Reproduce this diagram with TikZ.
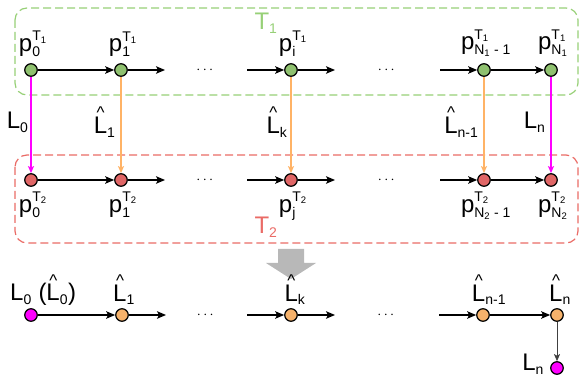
\documentclass[tikz,border=0pt]{standalone}
\usepackage{amsmath}
\usepackage{fontspec}
\setmainfont{Liberation Sans}
\usetikzlibrary{positioning,arrows.meta,calc}
\DeclareMathSizes{24}{24}{14}{9.5}
\definecolor{lgreen}{HTML}{97D077}
\definecolor{ngreen}{HTML}{8FC16F}
\definecolor{lred}{HTML}{EA6B66}
\definecolor{nred}{HTML}{E06666}
\definecolor{norange}{HTML}{F6B26B}
\definecolor{lorange}{HTML}{FFB366}
\definecolor{lmag}{HTML}{FF00FF}
\newcommand{\Lh}{\makebox[0pt][l]{\hspace{0.12em}\raisebox{0.6em}{\fontsize{17}{17}\selectfont\textasciicircum}}L}

\begin{document}
\begin{tikzpicture}[x=1pt,y=-1pt,
	dot/.style = {circle, draw, line width=1.2pt, minimum size=12.5pt, inner sep=0pt},
	gdot/.style = {dot, fill=ngreen},
	rdot/.style = {dot, fill=nred},
	odot/.style = {dot, fill=norange},
	mdot/.style = {dot, fill=lmag},
	arr/.style = {-{Stealth[length=9pt,width=7.5pt,inset=2pt]}, line width=1.2pt},
	link/.style = {-{Stealth[length=7pt,width=6pt,inset=1.5pt]}, line width=1.2pt},
	lab/.style = {inner sep=0pt, text=black, font=\fontsize{24}{27}\selectfont},
	dots/.style = {inner sep=0pt, font=\fontsize{14}{14}\selectfont},
	tbox/.style = {dash pattern=on 8pt off 4pt, line width=1.2pt, rounded corners=12pt}]
	\useasboundingbox (0,0) rectangle (582,379);
	\draw[tbox, lgreen] (15,8) rectangle (578,95);
	\draw[tbox, lred] (15,155) rectangle (578,243);
	\node[lab, text=lgreen] (t1) at (266,23) {$\text{T}_\text{1}$};
	\node[lab, text=lred] (t2) at (266,227) {$\text{T}_\text{2}$};
	\node[gdot] (a0) at (31,70) {};
	\node[gdot] (a1) at (121,70) {};
	\node[gdot] (a2) at (291,70) {};
	\node[gdot] (a3) at (484,70) {};
	\node[gdot] (a4) at (551,70) {};
	\node[rdot] (b0) at (31,180) {};
	\node[rdot] (b1) at (121,180) {};
	\node[rdot] (b2) at (291,180) {};
	\node[rdot] (b3) at (484,180) {};
	\node[rdot] (b4) at (551,180) {};
	\node[mdot] (c0) at (31,315) {};
	\node[odot] (c1) at (122,315) {};
	\node[odot] (c2) at (291,315) {};
	\node[odot] (c3) at (483,315) {};
	\node[odot] (c4) at (557,315) {};
	\node[mdot] (c5) at (557,368) {};
	\foreach \r in {a,b,c}{
		\coordinate[right=44pt of \r1.center] (\r1e);
		\coordinate[left=44pt of \r2.center] (\r2s);
		\coordinate[right=44pt of \r2.center] (\r2e);
		\coordinate[left=44pt of \r3.center] (\r3s);
		\node[dots] (\r d1) at ($(\r1e)!0.5!(\r2s)$) {$\cdots$};
		\node[dots] (\r d2) at ($(\r2e)!0.5!(\r3s)$) {$\cdots$};
		\draw[arr] (\r0) -- (\r1);
		\draw[arr] (\r1) -- (\r1e);
		\draw[arr] (\r2s) -- (\r2);
		\draw[arr] (\r2) -- (\r2e);
		\draw[arr] (\r3s) -- (\r3);
		\draw[arr] (\r3) -- (\r4);
	}
	\node[lab, above=6pt of a0, xshift=2pt] (pa0) {$\text{p}^{\text{T}_\text{1}}_\text{0}$};
	\node[lab, above=6pt of a1, xshift=2pt] (pa1) {$\text{p}^{\text{T}_\text{1}}_\text{1}$};
	\node[lab, above=6pt of a2, xshift=2pt] (pa2) {$\text{p}^{\text{T}_\text{1}}_\text{i}$};
	\node[lab, above=6pt of a3, xshift=2pt] (pa3) {$\text{p}^{\text{T}_\text{1}}_{\text{N}_\text{1}\text{ - 1}}$};
	\node[lab, above=6pt of a4, xshift=2pt] (pa4) {$\text{p}^{\text{T}_\text{1}}_{\text{N}_\text{1}}$};
	\node[lab, below=5pt of b0, xshift=2pt] (pb0) {$\text{p}^{\text{T}_\text{2}}_\text{0}$};
	\node[lab, below=5pt of b1, xshift=2pt] (pb1) {$\text{p}^{\text{T}_\text{2}}_\text{1}$};
	\node[lab, below=5pt of b2, xshift=2pt] (pb2) {$\text{p}^{\text{T}_\text{2}}_\text{j}$};
	\node[lab, below=5pt of b3, xshift=2pt] (pb3) {$\text{p}^{\text{T}_\text{2}}_{\text{N}_\text{2}\text{ - 1}}$};
	\node[lab, below=5pt of b4, xshift=2pt] (pb4) {$\text{p}^{\text{T}_\text{2}}_{\text{N}_\text{2}}$};
	\draw[link, lmag] (a0) -- (b0) node[lab, pos=0.47, left=2pt] (l0) {$\text{L}_\text{0}$};
	\draw[link, lorange] (a1) -- (b1) node[lab, pos=0.47, left=5pt] (l1) {$\text{\Lh}_\text{1}$};
	\draw[link, lorange] (a2) -- (b2) node[lab, pos=0.47, left=3pt] (l2) {$\text{\Lh}_\text{k}$};
	\draw[link, lorange] (a3) -- (b3) node[lab, pos=0.47, left=5pt] (l3) {$\text{\Lh}_\text{n-1}$};
	\draw[link, lmag] (a4) -- (b4) node[lab, pos=0.47, left=5pt] (l4) {$\text{L}_\text{n}$};
	\fill[black!28] (278,249) -- (304,249) -- (304,263) -- (316,263) -- (291,279) -- (266,263) -- (278,263) -- cycle;
	\node[lab, anchor=south west] (m0) at (10,306) {$\text{L}_\text{0}\text{ (}\text{\Lh}_\text{0}\text{)}$};
	\node[lab, above=3pt of c1, xshift=2pt] (m1) {$\text{\Lh}_\text{1}$};
	\node[lab, above=3pt of c2, xshift=4pt] (m2) {$\text{\Lh}_\text{k}$};
	\node[lab, above=3pt of c3, xshift=6pt] (m3) {$\text{\Lh}_\text{n-1}$};
	\node[lab, above=3pt of c4, xshift=3pt] (m4) {$\text{\Lh}_\text{n}$};
	\draw[link, black!75, line width=0.8pt] (c4) -- (c5);
	\node[lab, left=6pt of c5, yshift=4pt] (m5) {$\text{L}_\text{n}$};
\end{tikzpicture}
\end{document}
